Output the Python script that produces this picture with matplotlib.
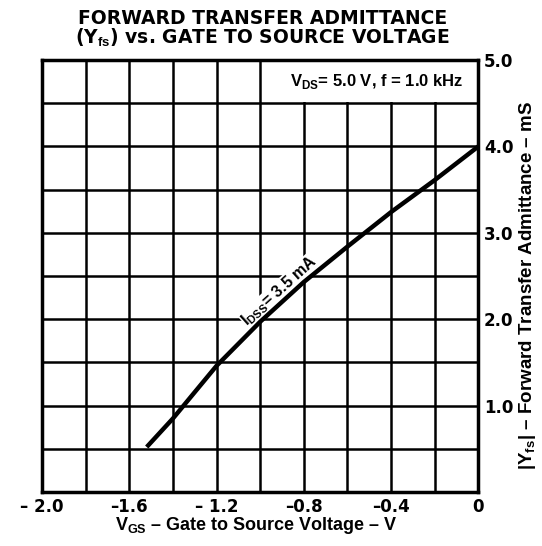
import matplotlib
matplotlib.use("Agg")
import matplotlib.pyplot as plt
from matplotlib.patches import Rectangle
import numpy as np

plt.rcParams['font.family'] = ['DejaVu Sans']
plt.rcParams['mathtext.fontset'] = 'custom'
plt.rcParams['mathtext.rm'] = 'Liberation Sans'
plt.rcParams['mathtext.bf'] = 'Liberation Sans:bold'

# Data
vgs = [-1.52, -1.40, -1.20, -1.00, -0.80, -0.60, -0.40, -0.20, 0.0]
yfs = [0.52, 0.85, 1.46, 1.97, 2.43, 2.84, 3.24, 3.61, 4.0]

xtick_vals = [-2.0, -1.6, -1.2, -0.8, -0.4, 0.0]
xtick_labels = ["\u2013 2.0", "\u20131.6", "\u2013 1.2", "\u20130.8", "\u20130.4", "0"]
ytick_vals = [1.0, 2.0, 3.0, 4.0, 5.0]
ytick_labels = ["1.0", "2.0", "3.0", "4.0", "5.0"]

LIB = ['Liberation Sans', 'DejaVu Sans']

fig = plt.figure(figsize=(5.42, 5.46), dpi=100)
ax = fig.add_axes([0.0775, 0.099, 0.805, 0.791])
ax.set_xlim(-2.0, 0.0)
ax.set_ylim(0.0, 5.0)

# grid
ax.set_xticks(np.arange(-2.0, 0.01, 0.2), minor=True)
ax.set_yticks(np.arange(0.0, 5.01, 0.5), minor=True)
ax.grid(which='both', color='black', linewidth=1.8, zorder=1)
ax.set_axisbelow(True)

ax.set_xticks(xtick_vals)
ax.set_xticklabels(xtick_labels, fontsize=12, fontweight='bold')
ax.yaxis.tick_right()
ax.set_yticks(ytick_vals)
ax.set_yticklabels(ytick_labels, fontsize=12, fontweight='bold')
ax.tick_params(which='both', length=0, pad=4)
for s in ax.spines.values():
    s.set_linewidth(2.5)
    s.set_zorder(5)

# white box for condition label
ax.add_patch(Rectangle((-0.985, 4.515), 0.985, 0.485, facecolor='white', edgecolor='none', zorder=2))
ax.text(-0.464, 4.75, r"V$_{\mathbf{DS}}$= 5.0 V, f = 1.0 kHz", ha='center', va='center',
        fontsize=12, fontweight='bold', family=LIB, zorder=3)

ax.plot(vgs, yfs, color='black', linewidth=3.2, zorder=4, solid_capstyle='butt')

ax.text(-0.91, 2.33, r"I$_{\mathbf{DSS}}$= 3.5 mA", rotation=42, ha='center', va='center',
        fontsize=11.5, fontweight='bold', family=LIB, zorder=3,
        bbox=dict(facecolor='white', edgecolor='none', pad=0.5))

fig.text(0.473, 0.037, "V$_{\\mathbf{GS}}$ \u2013 Gate to Source Voltage \u2013 V",
         ha='center', va='center', fontsize=13, fontweight='bold', family=LIB)
fig.text(0.974, 0.478, "|Y$_{\\mathbf{fs}}$| \u2013 Forward Transfer Admittance \u2013 mS",
         ha='center', va='center', rotation=90, fontsize=13.5, fontweight='bold', family=LIB)

fig.text(0.484, 0.966, "FORWARD TRANSFER ADMITTANCE", ha='center', va='center',
         fontsize=13.5, fontweight='bold')
fig.text(0.484, 0.930, "(Y$_{\\mathbf{fs}}$) vs. GATE TO SOURCE VOLTAGE", ha='center', va='center',
         fontsize=13.5, fontweight='bold')

fig.savefig("out.png", dpi=100, facecolor='white')
